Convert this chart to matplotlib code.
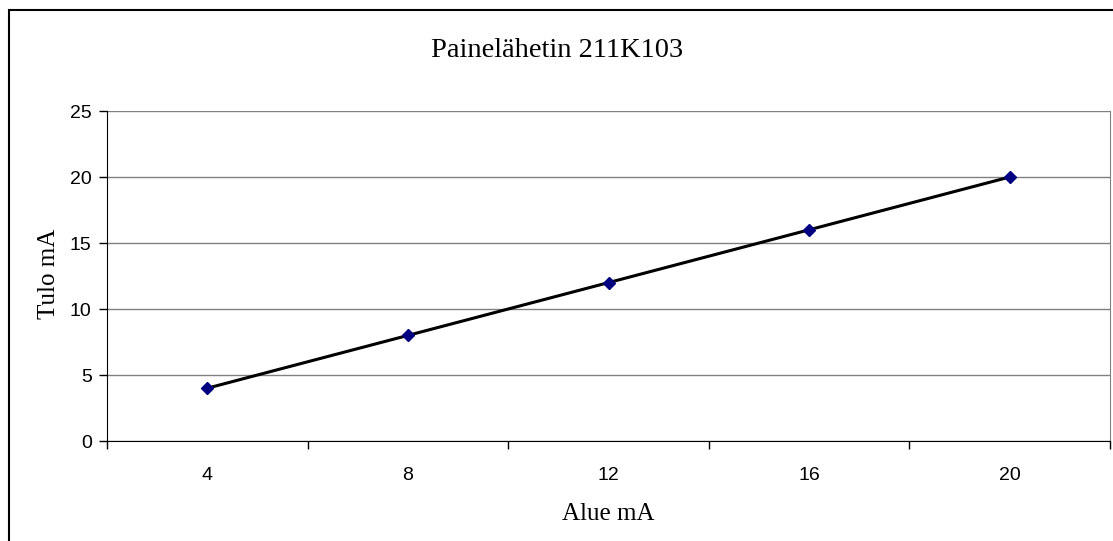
import matplotlib

matplotlib.use("Agg")
import matplotlib.pyplot as plt
from matplotlib.patches import Rectangle

# data
categories = ["4", "8", "12", "16", "20"]
values = [4, 8, 12, 16, 20]
y_ticks = [0, 5, 10, 15, 20, 25]

W, H = 1113, 541
fig = plt.figure(figsize=(W / 100, H / 100), dpi=100)
fig.patch.set_facecolor("white")

# plot area in pixels: left 107, right 1110, top 111, bottom 441
left, right, top, bottom = 107, 1110, 111, 441
ax = fig.add_axes([left / W, 1 - bottom / H, (right - left) / W, (bottom - top) / H])

x = list(range(len(categories)))
ax.plot(x, values, color="black", linewidth=2.2, zorder=3)
ax.plot(x, values, linestyle="none", marker="D", markersize=6.3,
        color="#000080", zorder=4)

ax.set_xlim(-0.5, len(categories) - 0.5)
ax.set_ylim(0, 25)

ax.set_xticks(x)
ax.set_xticklabels(categories)
ax.set_xticks([i - 0.5 for i in range(len(categories) + 1)], minor=True)
ax.tick_params(axis="x", which="major", length=0, pad=19, labelsize=14)
ax.tick_params(axis="x", which="minor", length=6, width=1, color="black", direction="out")

ax.set_yticks(y_ticks)
ax.tick_params(axis="y", length=6, width=1, color="black", direction="out",
               pad=5, labelsize=14)
for lab in ax.get_xticklabels() + ax.get_yticklabels():
    lab.set_family("Liberation Sans")

ax.grid(axis="y", color="#808080", linewidth=1)
ax.set_axisbelow(True)

ax.spines["top"].set_visible(False)
ax.spines["right"].set_color("#808080")
ax.spines["left"].set_color("black")
ax.spines["bottom"].set_color("black")

serif = "Liberation Serif"
fig.text(557 / W, 1 - 50 / H, "Painelähetin 211K103", fontfamily=serif,
         fontsize=20.5, ha="center", va="center")
fig.text(608 / W, 1 - 520 / H, "Alue mA", fontfamily=serif,
         fontsize=18, ha="center", va="baseline")
fig.text(49 / W, 1 - 274 / H, "Tulo mA", fontfamily=serif,
         fontsize=18, ha="center", va="center", rotation=90)

# outer chart frame (right and bottom edges fall outside the image)
fig.patches.append(Rectangle((9 / W, -0.05), 1.1, 1 - 10 / H + 0.05,
                             transform=fig.transFigure, fill=False,
                             edgecolor="black", linewidth=1.5))

fig.savefig("out.png", dpi=100)
plt.close(fig)
